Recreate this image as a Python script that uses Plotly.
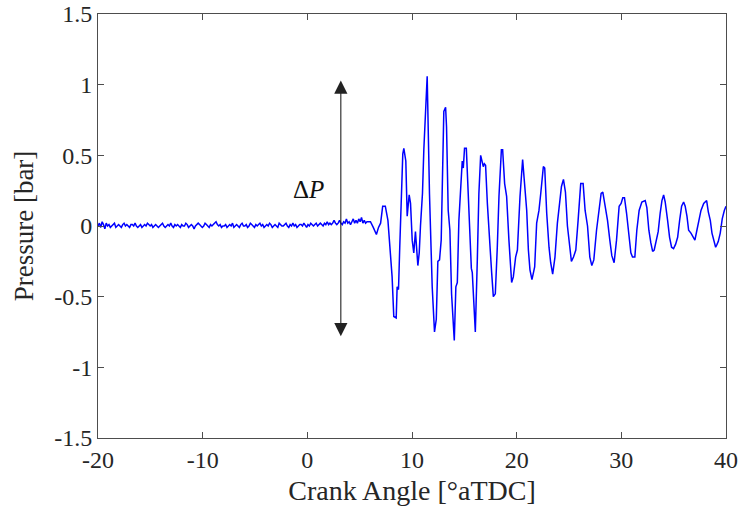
import plotly.graph_objects as go

# ---- data ----
# quiet (pre-knock) part: evenly sampled from -20 to 5.7 deg
quiet_start = -20.0
quiet_end = 5.7
quiet_pressure = [
    0.00, 0.02, -0.01, 0.03, 0.01, -0.02, 0.02, 0.00, 0.01, -0.01,
    0.00, 0.01, 0.02, -0.01, 0.00, 0.01, 0.00, -0.01, 0.01, 0.02,
    0.00, 0.01, 0.00, -0.01, 0.01, 0.01, 0.00, 0.02, 0.00, -0.01,
    0.00, 0.01, -0.01, 0.00, 0.01, 0.00, 0.02, 0.01, 0.00, 0.01,
    -0.01, 0.00, 0.01, 0.00, -0.01, 0.00, 0.01, 0.02, 0.00, -0.01,
    0.00, 0.01, 0.00, 0.02, 0.00, -0.01, 0.01, 0.00, 0.01, 0.00,
    -0.01, 0.01, 0.00, 0.00, 0.02, 0.01, -0.01, 0.00, 0.01, 0.00,
    -0.02, 0.00, 0.01, 0.02, 0.01, 0.00, -0.01, 0.00, 0.02, 0.01,
    0.00, -0.01, 0.01, 0.00, 0.01, 0.02, 0.03, 0.01, 0.00, 0.01,
    -0.01, 0.00, 0.00, 0.01, -0.01, 0.00, 0.01, 0.00, 0.02, -0.01,
    0.00, 0.01, 0.00, -0.01, 0.01, 0.02, 0.00, 0.00, 0.01, -0.01,
    0.00, 0.02, 0.01, 0.00, -0.01, 0.01, 0.00, 0.01, 0.02, 0.00,
    0.01, -0.01, 0.00, 0.01, 0.00, 0.02, 0.01, -0.01, 0.00, 0.01,
    0.00, -0.01, 0.02, 0.01, 0.00, 0.00, 0.01, 0.02, 0.00, -0.01,
    0.01, 0.00, 0.02, 0.00, 0.01, -0.01, 0.00, 0.01, 0.01, 0.00,
    0.02, 0.00, -0.01, 0.01, 0.00, 0.02, 0.01, 0.00, 0.01, 0.02,
    0.00, 0.01, 0.02, 0.01, 0.00, 0.02, 0.01, 0.03, 0.01, 0.02,
    0.01, 0.02, 0.04, 0.02, 0.01, 0.02, 0.04, 0.02, 0.01, 0.03,
    0.02, 0.05, 0.02, 0.03, 0.01, 0.03, 0.05, 0.02, 0.04, 0.02,
    0.05, 0.03, 0.06, 0.02, 0.04, 0.02, 0.03,
]

# knocking part
knock_angle = [
    5.8, 6.03, 6.3, 6.6, 6.8, 7.0, 7.2, 7.45, 7.7,
    7.88, 8.1, 8.26, 8.49, 8.58, 8.71, 8.83, 8.96, 9.12, 9.22,
    9.41, 9.54, 9.73, 9.86, 10.02, 10.17, 10.33, 10.56, 10.69, 10.81,
    11.0, 11.13, 11.32, 11.45, 11.67, 11.93, 12.15, 12.32, 12.47, 12.63,
    12.79, 12.89, 13.04, 13.21, 13.3, 13.46, 13.62, 13.78, 14.04, 14.19,
    14.33, 14.48, 14.71, 14.8, 14.9, 15.02, 15.19, 15.34, 15.53, 15.67,
    15.76, 15.89, 16.05, 16.24, 16.39, 16.56, 16.72, 16.81, 16.91, 17.03,
    17.2, 17.42, 17.61, 17.77, 17.96, 18.15, 18.31, 18.54, 18.66, 18.85,
    19.04, 19.26, 19.52, 19.68, 19.9, 20.07, 20.32, 20.57, 20.79, 20.96,
    21.12, 21.27, 21.46, 21.72, 21.91, 22.13, 22.3, 22.55, 22.68, 22.87,
    23.09, 23.25, 23.44, 23.66, 23.89, 24.09, 24.28, 24.47, 24.66, 24.85,
    25.07, 25.23, 25.43, 25.65, 25.87, 26.12, 26.35, 26.54, 26.77, 26.99,
    27.18, 27.37, 27.63, 27.88, 28.07, 28.23, 28.45, 28.68, 28.9, 29.09,
    29.31, 29.54, 29.79, 29.98, 30.14, 30.3, 30.5, 30.69, 30.91, 31.07,
    31.29, 31.48, 31.7, 31.96, 32.28, 32.44, 32.63, 32.82, 32.99, 33.14,
    33.33, 33.52, 33.71, 33.88, 34.04, 34.19, 34.42, 34.61, 34.8, 34.99,
    35.18, 35.38, 35.57, 35.76, 35.95, 36.1, 36.27, 36.43, 36.65, 36.84,
    37.03, 37.22, 37.42, 37.61, 37.87, 38.02, 38.15, 38.31, 38.5, 38.66,
    38.82, 39.01, 39.14, 39.26, 39.45, 39.64, 39.84, 40.0,
]
knock_pressure = [
    0.03, 0.03, -0.01, -0.06, -0.01, 0.02, 0.14, 0.14, 0.04,
    -0.12, -0.36, -0.64, -0.65, -0.43, -0.45, -0.15, 0.11, 0.51, 0.55,
    0.46, 0.07, 0.22, 0.16, -0.10, -0.19, -0.04, -0.28, -0.19, 0.00,
    0.23, 0.54, 0.89, 1.06, 0.23, -0.43, -0.75, -0.66, -0.25, -0.24,
    -0.10, 0.23, 0.81, 0.84, 0.70, 0.11, -0.03, -0.48, -0.81, -0.43,
    -0.40, 0.04, 0.42, 0.46, 0.41, 0.55, 0.55, 0.30, -0.05, -0.30,
    -0.33, -0.57, -0.75, -0.24, 0.23, 0.50, 0.46, 0.42, 0.44, 0.43,
    0.16, -0.15, -0.33, -0.50, -0.48, -0.15, 0.21, 0.54, 0.54, 0.30,
    0.21, -0.10, -0.40, -0.36, -0.22, -0.17, 0.21, 0.47, 0.28, 0.11,
    -0.17, -0.31, -0.38, -0.29, 0.02, 0.11, 0.23, 0.42, 0.41, 0.09,
    -0.15, -0.26, -0.34, -0.22, 0.02, 0.18, 0.28, 0.33, 0.24, 0.00,
    -0.17, -0.25, -0.22, -0.17, 0.04, 0.30, 0.30, 0.11, 0.00, -0.22,
    -0.28, -0.24, -0.03, 0.14, 0.23, 0.24, 0.14, 0.04, -0.10, -0.21,
    -0.26, -0.10, 0.14, 0.16, 0.20, 0.20, 0.09, -0.05, -0.19, -0.22,
    -0.22, -0.03, 0.11, 0.17, 0.18, 0.13, -0.03, -0.12, -0.18, -0.17,
    -0.10, -0.04, 0.09, 0.18, 0.22, 0.17, 0.04, -0.08, -0.15, -0.16,
    -0.13, -0.08, 0.04, 0.14, 0.17, 0.14, 0.07, -0.03, -0.05, -0.08,
    -0.10, -0.03, 0.04, 0.11, 0.16, 0.17, 0.18, 0.10, 0.04, -0.05,
    -0.10, -0.15, -0.13, -0.11, -0.05, 0.05, 0.11, 0.14,
]

x_ticks = [-20, -10, 0, 10, 20, 30, 40]
x_tick_text = ["-20", "-10", "0", "10", "20", "30", "40"]
y_ticks = [-1.5, -1, -0.5, 0, 0.5, 1, 1.5]
y_tick_text = ["-1.5", "-1", "-0.5", "0", "0.5", "1", "1.5"]

arrow_angle = 3.2
arrow_top = 1.03
arrow_bottom = -0.79
label_angle = 0.1
label_pressure = 0.26

# ---- build series ----
n_quiet = len(quiet_pressure)
quiet_step = (quiet_end - quiet_start) / (n_quiet - 1)
quiet_angle = [quiet_start + i * quiet_step for i in range(n_quiet)]
angle = quiet_angle + knock_angle
pressure = quiet_pressure + knock_pressure

FONT = "'Liberation Serif', 'Times New Roman', 'DejaVu Serif', serif"
AX = "#4d4d4d"
TXT = "#262626"

fig = go.Figure()
fig.add_trace(go.Scatter(x=angle, y=pressure, mode="lines",
                         line=dict(color="#0000ff", width=1.5),
                         showlegend=False, hoverinfo="skip"))

fig.add_annotation(x=arrow_angle, y=arrow_top, ax=arrow_angle, ay=arrow_bottom,
                   xref="x", yref="y", axref="x", ayref="y",
                   text="", showarrow=True, arrowside="end+start",
                   arrowhead=2, arrowsize=2.4, arrowwidth=1.1,
                   arrowcolor="#222222")
fig.add_annotation(x=label_angle, y=label_pressure, xref="x", yref="y",
                   text="Δ<i>P</i>", showarrow=False,
                   font=dict(family=FONT, size=25, color="#111111"))

axis_common = dict(showline=True, linecolor=AX, linewidth=1, mirror="allticks",
                   ticks="inside", ticklen=6, tickcolor=AX, tickwidth=1,
                   showgrid=False, zeroline=False, automargin=False,
                   tickfont=dict(family=FONT, size=24, color=TXT))

fig.update_xaxes(range=[-20, 40], tickvals=x_ticks, ticktext=x_tick_text,
                 title=dict(text="Crank Angle [°aTDC]",
                            font=dict(family=FONT, size=28, color=TXT),
                            standoff=8),
                 **axis_common)
fig.update_yaxes(range=[-1.5, 1.5], tickvals=y_ticks, ticktext=y_tick_text,
                 title=dict(text="Pressure [bar]",
                            font=dict(family=FONT, size=27, color=TXT),
                            standoff=12),
                 **axis_common)

fig.update_layout(width=742, height=514,
                  margin=dict(l=98, r=16, t=14, b=76),
                  paper_bgcolor="white", plot_bgcolor="white",
                  font=dict(family=FONT))

fig.write_html("out.html")
